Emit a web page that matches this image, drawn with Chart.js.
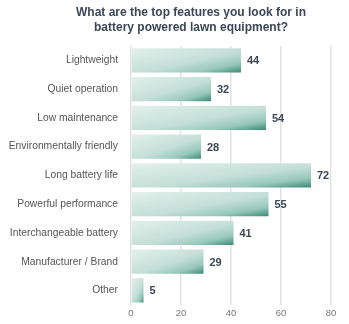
<!DOCTYPE html>
<html>
<head>
<meta charset="utf-8">
<script src="https://cdn.jsdelivr.net/npm/chart.js@4/dist/chart.umd.min.js"></script>
<style>
  html, body { margin: 0; padding: 0; background: #fff; }
  #wrap { position: relative; width: 349px; height: 324px; }
  #myChart { position: absolute; left: 0; top: 0; }
  #title {
    position: absolute; left: 32px; top: 5px; width: 318px; z-index: 1;
    text-align: center; font: bold 12px "Liberation Sans", Arial, sans-serif;
    line-height: 15px; color: #3b4756;
  }
</style>
</head>
<body>
<div id="wrap">
  <canvas id="myChart" width="349" height="324"></canvas>
  <div id="title">What are the top features you look for in<br>battery powered lawn equipment?</div>
</div>
<script>
const chart = document.getElementById("myChart");

// survey answers
const features = [
    "Lightweight",
    "Quiet operation",
    "Low maintenance",
    "Environmentally friendly",
    "Long battery life",
    "Powerful performance",
    "Interchangeable battery",
    "Manufacturer / Brand",
    "Other",
];
const counts = [44, 32, 54, 28, 72, 55, 41, 29, 5];
const xTicks = [0, 20, 40, 60, 80];

// diagonal fill for each bar, light top-left -> teal bottom-right
const barFill = (context) => {
    const c = context.chart;
    const xs = c.scales.x;
    const ys = c.scales.y;
    if (!xs || !ys || context.raw === undefined) return "#c3ded6";
    const half = 12;
    const x0 = xs.getPixelForValue(0);
    const x1 = xs.getPixelForValue(context.raw);
    const top = ys.getPixelForValue(context.dataIndex) - half;
    if (![x0, x1, top].every(Number.isFinite)) return "#c3ded6";
    const w = Math.max(x1 - x0, 1);
    const h = half * 2;
    const k = 2 / (1 / (w * w) + 1 / (h * h));
    const g = c.ctx.createLinearGradient(x0, top, x0 + k / w, top + k / h);
    g.addColorStop(0, "#e3f0ec");
    g.addColorStop(0.55, "#c4dfd7");
    g.addColorStop(0.8, "#98c8bb");
    g.addColorStop(1, "#3a8b78");
    return g;
};

// numbers at the end of the bars
const valueLabels = {
    id: "valueLabels",
    afterDatasetsDraw(c) {
        const ctx = c.ctx;
        const meta = c.getDatasetMeta(0);
        ctx.save();
        ctx.font = "bold 11px 'Liberation Sans', Arial, sans-serif";
        ctx.fillStyle = "#3b4756";
        ctx.textBaseline = "middle";
        ctx.textAlign = "left";
        meta.data.forEach((bar, i) => {
            ctx.fillText(String(counts[i]), bar.x + 6, bar.y + 1);
        });
        ctx.restore();
    },
};

const config = {
    type: "bar",
    data: {
        labels: features,
        datasets: [
            {
                data: counts,
                backgroundColor: barFill,
                borderWidth: 0,
                barPercentage: 0.84,
                categoryPercentage: 1,
            },
        ],
    },
    options: {
        indexAxis: "y",
        responsive: false,
        animation: false,
        layout: { padding: { top: 46, right: 18, bottom: 0, left: 0 } },
        plugins: {
            legend: { display: false },
            tooltip: { enabled: false },
        },
        scales: {
            x: {
                min: 0,
                max: 80,
                afterBuildTicks: (axis) => {
                    axis.ticks = xTicks.map((v) => ({ value: v }));
                },
                grid: { color: "#e2e2e2", lineWidth: 1.5, drawTicks: false },
                border: { display: false },
                ticks: {
                    padding: 3,
                    color: "#777",
                    font: { size: 9.5, family: "'Liberation Sans', Arial, sans-serif" },
                },
            },
            y: {
                afterFit: (axis) => {
                    axis.width = 131;
                },
                grid: { display: false, drawTicks: false },
                border: { display: false },
                ticks: {
                    padding: 13,
                    color: "#555",
                    font: { size: 10.3, family: "'Liberation Sans', Arial, sans-serif" },
                },
            },
        },
    },
    plugins: [valueLabels],
};

new Chart(chart, config);
</script>
</body>
</html>
